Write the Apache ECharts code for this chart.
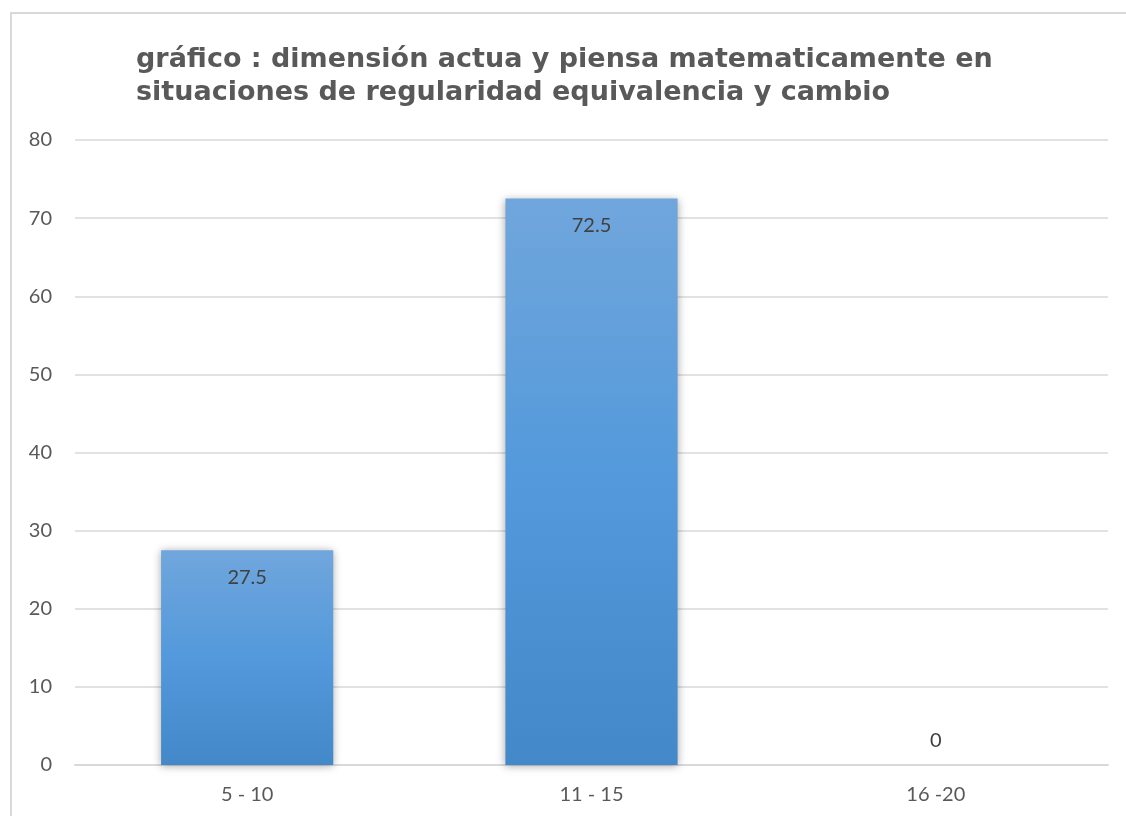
<!DOCTYPE html>
<html>
<head>
<meta charset="utf-8">
<script src="https://cdn.jsdelivr.net/npm/echarts@6/dist/echarts.min.js"></script>
<style>
  html, body { margin: 0; padding: 0; background: #fff; }
  #frame { position: absolute; left: 10px; top: 12px; width: 1126px; height: 816px;
           border-left: 2px solid #d9d9d9; border-top: 2px solid #d9d9d9; }
  #chart { position: absolute; left: 0; top: 0; width: 1126px; height: 816px; }
</style>
</head>
<body>
<div id="frame"></div>
<div id="chart"></div>
<script>
var titleLines = ['gráfico : dimensión actua y piensa matematicamente en',
                  'situaciones de regularidad equivalencia y cambio'];
var categories = ['5 - 10', '11 - 15', '16 -20'];
var values = [27.5, 72.5, 0];
var yTicks = [0, 80, 10]; // min, max, interval

var myChart = echarts.init(document.getElementById('chart'));

var barData = values.map(function (v) {
  return {
    value: v,
    label: v === 0 ? { position: 'top', distance: 14 } : {}
  };
});

myChart.setOption({
  animation: false,
  title: {
    text: titleLines.join('\n'),
    left: 131,
    top: 38,
    textStyle: {
      fontFamily: 'DejaVu Sans',
      fontWeight: 'bold',
      fontSize: 27,
      lineHeight: 33,
      color: '#595959'
    }
  },
  grid: { left: 75, right: 18, top: 140, bottom: 51 },
  xAxis: {
    type: 'category',
    data: categories,
    axisLine: { lineStyle: { color: '#d9d9d9', width: 2 } },
    axisTick: { show: false },
    axisLabel: { color: '#595959', fontSize: 20, fontFamily: 'Lato', margin: 20 }
  },
  yAxis: {
    type: 'value',
    min: yTicks[0],
    max: yTicks[1],
    interval: yTicks[2],
    axisLine: { show: false },
    axisTick: { show: false },
    splitLine: { lineStyle: { color: '#d9d9d9', width: 1.5 } },
    axisLabel: { color: '#595959', fontSize: 20, fontFamily: 'Lato', margin: 23 }
  },
  series: [{
    type: 'bar',
    data: barData,
    barWidth: '50%',
    itemStyle: {
      color: new echarts.graphic.LinearGradient(0, 0, 0, 1, [
        { offset: 0, color: '#70a6dc' },
        { offset: 0.5, color: '#5399db' },
        { offset: 1, color: '#4388c9' }
      ]),
      shadowColor: 'rgba(0,0,0,0.35)',
      shadowBlur: 8,
      shadowOffsetX: 0,
      shadowOffsetY: 1
    },
    label: {
      show: true,
      position: 'insideTop',
      distance: 17,
      color: '#404040',
      fontSize: 20,
      fontFamily: 'Lato'
    }
  }]
});
</script>
</body>
</html>
